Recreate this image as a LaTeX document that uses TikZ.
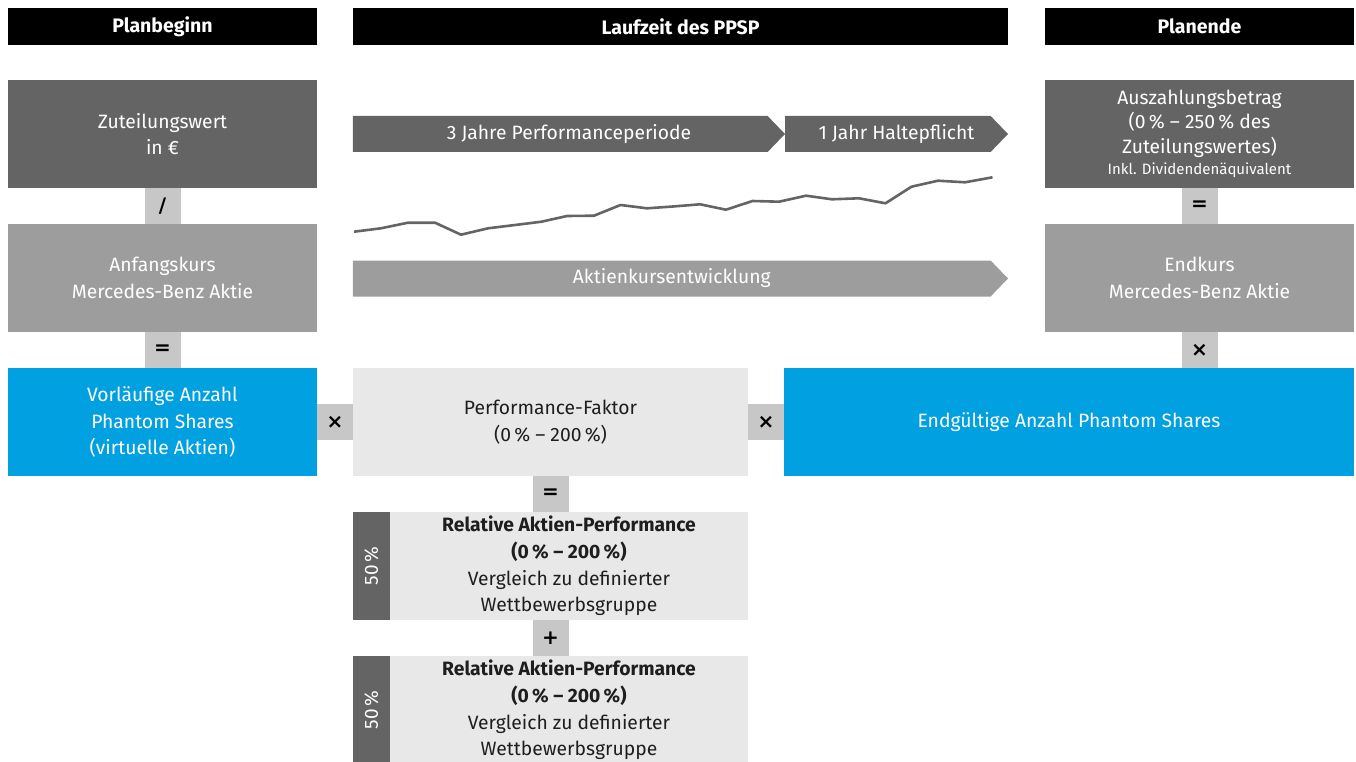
\documentclass[tikz,border=0pt]{standalone}
\usepackage{fontspec}
\setmainfont{Fira Sans}
\newfontfamily\opfont{DejaVu Sans}
\usetikzlibrary{positioning, shapes.symbols}
\definecolor{mbdark}{HTML}{636463}
\definecolor{mbmid}{HTML}{9C9D9C}
\definecolor{mbop}{HTML}{C6C7C6}
\definecolor{mblight}{HTML}{E7E8E7}
\definecolor{mbblue}{HTML}{00A0E1}
\definecolor{mbtext}{HTML}{1E1E1E}
\tikzstyle{head}=[fill=black, text=white, minimum height=37, inner sep=0, outer sep=0,
  font=\bfseries\fontsize{19.5}{22}\selectfont]
\tikzstyle{box}=[minimum width=309, minimum height=108, inner sep=0, outer sep=0,
  align=center, text=white, font=\fontsize{19.3}{26.8}\selectfont]
\tikzstyle{op}=[fill=mbop, minimum size=36, inner sep=0, outer sep=0, text=black,
  font=\opfont\bfseries\fontsize{20}{22}\selectfont]
\tikzstyle{strip}=[fill=mbdark, minimum width=37, minimum height=108, inner sep=0,
  outer sep=0, text=white, font=\fontsize{19}{22}\selectfont]
\tikzstyle{phase}=[signal, signal to=east, signal pointer angle=92, minimum height=36,
  inner sep=0, outer sep=0, text=white, font=\fontsize{19.3}{22}\selectfont]
\tikzstyle{kurve}=[mbdark, line width=2.6, line join=round]

\begin{document}
\begin{tikzpicture}[x=1pt, y=-1pt]
  \useasboundingbox (0,0) rectangle (1356,762);

  % column heads
  \node[head, minimum width=309] (h1) at (162.5,26.5) {Planbeginn};
  \node[head, minimum width=655] (h2) at (680.5,26.5) {Laufzeit des PPSP};
  \node[head, minimum width=309] (h3) at (1199.5,26.5) {Planende};

  % plan start
  \node[box, fill=mbdark]              (zw) at (162.5,134) {Zuteilungswert\\in €};
  \node[op, below=0pt of zw]           (o1) {/};
  \node[box, fill=mbmid, below=0pt of o1] (ak) {Anfangskurs\\Mercedes-Benz Aktie};
  \node[op, below=0pt of ak]           (o2) {=};
  \node[box, fill=mbblue, below=0pt of o2] (va) {Vorläufige Anzahl\\Phantom Shares\\(virtuelle Aktien)};

  % performance row
  \node[op, right=0pt of va]           (o3) {×};
  \node[box, fill=mblight, text=mbtext, minimum width=395, right=0pt of o3]
                                       (pf) {Performance-Faktor\\(0\,\% – 200\,\%)};
  \node[op, right=0pt of pf]           (o4) {×};
  \node[box, fill=mbblue, minimum width=570, right=0pt of o4]
                                       (ea) {Endgültige Anzahl Phantom Shares};

  % parts of the performance factor
  \node[op, below=0pt of pf]           (o5) {=};
  \node[box, fill=mblight, text=mbtext, minimum width=358, below=0pt of o5, xshift=18.5]
                                       (r1) {\textbf{Relative Aktien-Performance}\\\textbf{(0\,\% – 200\,\%)}\\Vergleich zu definierter\\Wettbewerbsgruppe};
  \node[strip, left=0pt of r1]         (s1) {\rotatebox{90}{50\,\%}};
  \node[op, below=0pt of r1, xshift=-18.5] (o6) {+};
  \node[box, fill=mblight, text=mbtext, minimum width=358, below=0pt of o6, xshift=18.5]
                                       (r2) {\textbf{Relative Aktien-Performance}\\\textbf{(0\,\% – 200\,\%)}\\Vergleich zu definierter\\Wettbewerbsgruppe};
  \node[strip, left=0pt of r2]         (s2) {\rotatebox{90}{50\,\%}};

  % plan end
  \node[box, fill=mbdark, font=\fontsize{19.3}{24.5}\selectfont] (az) at (1199.5,134)
    {Auszahlungsbetrag\\(0\,\% – 250\,\% des\\Zuteilungswertes)\\[-3pt]{\fontsize{15}{18}\selectfont Inkl. Dividendenäquivalent}};
  \node[op, below=0pt of az]           (o7) {=};
  \node[box, fill=mbmid, below=0pt of o7] (ek) {Endkurs\\Mercedes-Benz Aktie};
  \node[op, below=0pt of ek]           (o8) {×};

  % term of the plan
  \node[phase, fill=mbdark, minimum width=432] (pp) at (560.3,134) {\hspace*{17.4pt}3 Jahre Performanceperiode};
  \node[phase, fill=mbdark, minimum width=223, right=0pt of pp] (hp) {\hspace*{17.4pt}1 Jahr Haltepflicht};
  \node[phase, fill=mbmid, minimum width=655] (ke) at (671.8,278.5) {Aktienkursentwicklung};

  % share price
  \draw[kurve] plot coordinates {(354,231.7) (381,228.3) (408,222.7) (435,222.7)
    (461,234.7) (488,228.3) (515,225) (541.5,221.7) (567,216) (594,215.7)
    (620.5,205) (647,208.3) (673,206.5) (700,204.3) (726,209.7) (752.5,201)
    (779,201.7) (806,195.7) (832,199.3) (859,198.3) (885.5,203.3) (911.5,186.7)
    (938,180.7) (965,182.3) (992.5,177.3)};
\end{tikzpicture}
\end{document}
